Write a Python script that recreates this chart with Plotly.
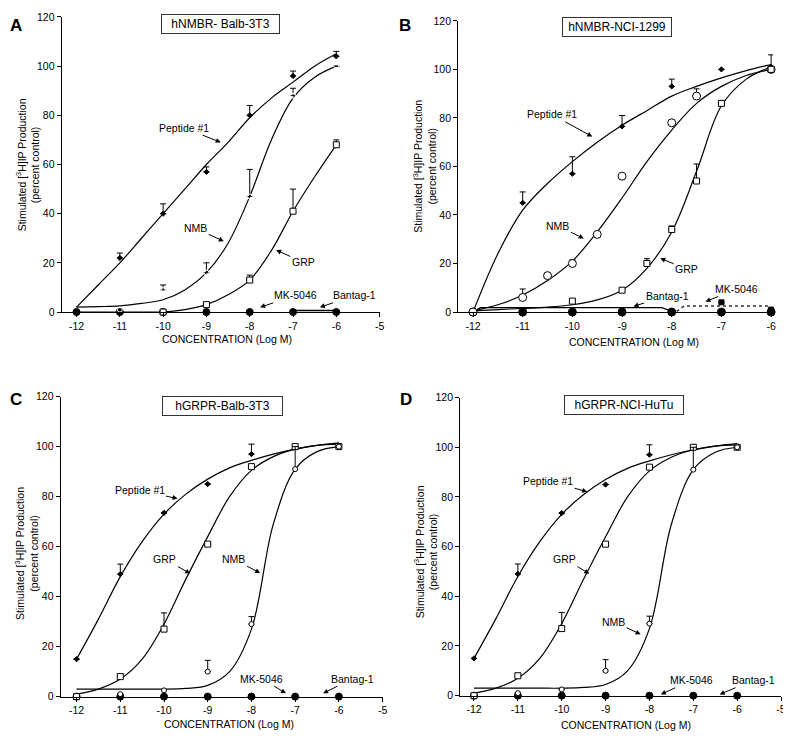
'''
    Dose-response curves of stimulated [3H]IP production in four cell lines.
'''
import plotly.graph_objects as go
from plotly.subplots import make_subplots

FONT = 'Arial, Liberation Sans, sans-serif'

DOSES = [-12, -11, -10, -9, -8, -7, -6]
CURVE_X = [-12, -11.5, -11, -10.5, -10, -9.5, -9, -8.5, -8, -7.5, -7, -6.5, -6]
ANTAG_Y = [0, 0, 0, 0, 0, 0, 0]

# Panel A: hNMBR- Balb-3T3
A_PEP_Y = [None, 22, 40, 57, 80, 96, 104]
A_PEP_ERR = [0, 2, 4, 2, 4, 2, 2]
A_NMB_Y = [None, 1, 9, 16, 47, 88, 100]
A_NMB_ERR = [0, 0, 2, 4, 11, 3, 0]
A_GRP_Y = [None, None, 0, 3, 13, 41, 68]
A_GRP_ERR = [0, 0, 0, 0, 2, 9, 2]
A_PEP_CURVE = [2, 11, 20, 30, 40, 50, 60, 69, 79, 87, 93.5, 100, 105]
A_NMB_CURVE = [2, 2.2, 2.5, 3.5, 5, 9, 16, 28, 47, 70, 87, 95.5, 100]
A_GRP_CURVE = [0, 0, 0, 0, 0, 1, 3, 7, 13, 25, 41, 55, 68]
A_BANTAG_X = [-7, -6]
A_BANTAG_Y = [0.6, 0.6]

# Panel B: hNMBR-NCI-1299
B_PEP_X = [-11, -10, -9, -8, -7, -6]
B_PEP_Y = [45, 57, 76.5, 93, 100, 101]
B_PEP_ERR = [4.5, 7, 4.5, 3, 0, 5]
B_NMB_X = [-12, -11, -10.5, -10, -9.5, -9, -8, -7.5, -6]
B_NMB_Y = [0, 6, 15, 20, 32, 56, 78, 89, 100]
B_NMB_ERR = [0, 3.5, 0, 1.5, 0, 0, 0, 3, 0]
B_GRP_X = [-10, -9, -8.5, -8, -7.5, -7, -6]
B_GRP_Y = [4.5, 9, 20, 34, 54, 86, 100]
B_GRP_ERR = [0, 0, 2, 1.5, 7, 1, 0]
B_MK_X = [-7, -6]
B_MK_Y = [4, 1]
B_PEP_CURVE = [0, 24, 42, 53, 62, 70, 77, 83, 89, 93, 96.5, 99.5, 102]
B_NMB_CURVE = [0.5, 3, 7, 13, 21, 33, 47, 62, 75, 86, 93, 97.5, 100]
B_GRP_CURVE = [0.5, 1, 1.5, 2, 3, 5, 9, 18, 33, 58, 85, 96, 101]
B_BANTAG_X = [-12, -11.85, -8.2, -8.0]
B_BANTAG_Y = [0, 1.8, 1.8, 0.3]
B_MK_LINE_X = [-7.9, -7.75, -6]
B_MK_LINE_Y = [0.3, 2.5, 2.5]

# Panels C and D: hGRPR-Balb-3T3 / hGRPR-NCI-HuTu
C_PEP_Y = [15, 49, 73.5, 85, 97, None, None]
C_PEP_ERR = [0, 4, 0, 0, 4, 0, 0]
C_GRP_Y = [0, 8, 27, 61, 92, 100, 100]
C_GRP_ERR = [0, 1, 6.5, 0, 0, 0, 0]
C_NMB_Y = [None, 1, 2.5, 10, 29, 91, 100]
C_NMB_ERR = [0, 0, 0, 4.5, 3, 9, 0]
C_PEP_CURVE = [15, 31, 48, 62, 73, 81, 87, 91.5, 94.5, 97, 99, 100.5, 101.5]
C_GRP_CURVE = [1, 3, 7, 15, 29, 47, 64, 80, 90.5, 96, 99, 100.5, 101]
C_NMB_CURVE = [3, 3, 3, 3, 3, 3.3, 4.5, 10, 27, 69, 91, 98, 100]

D_PEP_Y, D_PEP_ERR = C_PEP_Y, C_PEP_ERR
D_GRP_Y, D_GRP_ERR = C_GRP_Y, C_GRP_ERR
D_NMB_Y, D_NMB_ERR = C_NMB_Y, C_NMB_ERR
D_PEP_CURVE, D_GRP_CURVE, D_NMB_CURVE = C_PEP_CURVE, C_GRP_CURVE, C_NMB_CURVE

PANEL_TITLES = ['hNMBR- Balb-3T3', 'hNMBR-NCI-1299', 'hGRPR-Balb-3T3', 'hGRPR-NCI-HuTu']

# label, text x, text y, arrow tip x, arrow tip y
LABELS = {
    (1, 1): [('Peptide #1', -9.52, 75, -8.67, 69), ('NMB', -9.25, 34, -8.6, 28.8),
             ('GRP', -6.76, 20.2, -7.39, 25.2), ('MK-5046', -6.95, 6.8, -7.76, 1.9),
             ('Bantag-1', -5.58, 6.8, -6.38, 1.9)],
    (1, 2): [('Peptide #1', -10.42, 81.5, -9.6, 72.3), ('NMB', -10.29, 35.5, -9.77, 30.3),
             ('GRP', -7.7, 17.6, -8.23, 22.2), ('Bantag-1', -8.09, 6.8, -8.77, 2.3),
             ('MK-5046', -6.69, 9.5, -7.32, 4.3)],
    (2, 1): [('Peptide #1', -10.56, 82.5, -9.69, 79.2), ('GRP', -9.98, 55, -9.4, 49.2),
             ('NMB', -8.4, 55, -7.8, 49.4), ('MK-5046', -7.76, 7.2, -7.21, 1.3),
             ('Bantag-1', -5.69, 7.2, -6.36, 1.3)],
    (2, 2): [('Peptide #1', -10.31, 86.5, -9.42, 82.1), ('GRP', -9.93, 55, -9.37, 49.1),
             ('NMB', -8.82, 29.8, -8.2, 24.7), ('MK-5046', -7.04, 6.2, -7.74, 0.5),
             ('Bantag-1', -5.63, 6.2, -6.4, 0.5)],
}

# the page body has an 8px margin, so the figure is drawn 8px in from the top-left
PAGE_W, PAGE_H, OFF = 791, 740, 8
W, H = PAGE_W - OFF, PAGE_H - OFF


def px(x, y):
    return (x - OFF) / W, 1 - (y - OFF) / H


def points(fig, x, y, err, symbol, size, row, col, fill='white'):
    fig.add_trace(go.Scatter(
        x=x, y=y, mode='markers', cliponaxis=False,
        marker=dict(symbol=symbol, size=size, color=fill, line=dict(color='black', width=1)),
        error_y=dict(type='data', array=err, arrayminus=[0] * len(err), symmetric=False,
                     width=3, thickness=1, color='black'),
    ), row=row, col=col)


def curve(fig, x, y, row, col, color='black', dash='solid', shape='spline', width=1.2):
    fig.add_trace(go.Scatter(
        x=x, y=y, mode='lines', line=dict(color=color, width=width, shape=shape, dash=dash),
        cliponaxis=False,
    ), row=row, col=col)


fig = make_subplots(rows=2, cols=2)

# A
curve(fig, CURVE_X, A_PEP_CURVE, 1, 1)
curve(fig, CURVE_X, A_NMB_CURVE, 1, 1)
curve(fig, CURVE_X, A_GRP_CURVE, 1, 1)
curve(fig, A_BANTAG_X, A_BANTAG_Y, 1, 1, shape='linear', width=1.5)
points(fig, DOSES, ANTAG_Y, [0] * 7, 'circle', 7, 1, 1, fill='black')
points(fig, DOSES, A_PEP_Y, A_PEP_ERR, 'diamond', 4, 1, 1, fill='black')
points(fig, DOSES, A_NMB_Y, A_NMB_ERR, 'circle-open', 5, 1, 1)
points(fig, DOSES, A_GRP_Y, A_GRP_ERR, 'square', 6, 1, 1)

# B
curve(fig, CURVE_X, B_PEP_CURVE, 1, 2)
curve(fig, CURVE_X, B_NMB_CURVE, 1, 2)
curve(fig, CURVE_X, B_GRP_CURVE, 1, 2)
curve(fig, B_BANTAG_X, B_BANTAG_Y, 1, 2, shape='linear')
curve(fig, B_MK_LINE_X, B_MK_LINE_Y, 1, 2, color='#333333', dash='dot', shape='linear', width=1.6)
points(fig, DOSES, ANTAG_Y, [0] * 7, 'circle', 8, 1, 2, fill='black')
points(fig, B_MK_X, B_MK_Y, [0, 0], 'square', 5, 1, 2, fill='black')
points(fig, B_PEP_X, B_PEP_Y, B_PEP_ERR, 'diamond', 4, 1, 2, fill='black')
points(fig, B_NMB_X, B_NMB_Y, B_NMB_ERR, 'circle', 8, 1, 2)
points(fig, B_GRP_X, B_GRP_Y, B_GRP_ERR, 'square', 6, 1, 2)

# C and D
for (r, c), (pep, pe, grp, ge, nmb, ne, pc, gc, nc) in {
    (2, 1): (C_PEP_Y, C_PEP_ERR, C_GRP_Y, C_GRP_ERR, C_NMB_Y, C_NMB_ERR,
             C_PEP_CURVE, C_GRP_CURVE, C_NMB_CURVE),
    (2, 2): (D_PEP_Y, D_PEP_ERR, D_GRP_Y, D_GRP_ERR, D_NMB_Y, D_NMB_ERR,
             D_PEP_CURVE, D_GRP_CURVE, D_NMB_CURVE),
}.items():
    curve(fig, CURVE_X, pc, r, c)
    curve(fig, CURVE_X, gc, r, c)
    curve(fig, CURVE_X, nc, r, c)
    points(fig, DOSES, ANTAG_Y, [0] * 7, 'circle', 7, r, c, fill='black')
    points(fig, DOSES, pep, pe, 'diamond', 4, r, c, fill='black')
    points(fig, DOSES, grp, ge, 'square', 6, r, c)
    points(fig, DOSES, nmb, ne, 'circle', 5, r, c)

# axes placement, measured in pixels of the 791x740 page
domains = {
    (1, 1): ((62, 382), (11, 311), [-12.344, -5], [-12, -11, -10, -9, -8, -7, -6, -5]),
    (1, 2): ((461, 778), (15, 311), [-12.3, -5.96], [-12, -11, -10, -9, -8, -7, -6]),
    (2, 1): ((61, 385), (397, 702), [-12.364, -5], [-12, -11, -10, -9, -8, -7, -6, -5]),
    (2, 2): ((463, 786), (398, 701), [-12.317, -5], [-12, -11, -10, -9, -8, -7, -6, -5]),
}
axis_style = dict(showline=True, linecolor='black', linewidth=1, ticks='outside', ticklen=4,
                  tickcolor='black', showgrid=False, zeroline=False,
                  tickfont=dict(family=FONT, size=10.5, color='black'))
for (r, c), ((x0, x1), (y0, y1), xr, xt) in domains.items():
    dx0, _ = px(x0, 0)
    dx1, _ = px(x1, 0)
    _, dy0 = px(0, y1)
    _, dy1 = px(0, y0)
    fig.update_xaxes(domain=[dx0, dx1], range=xr, tickvals=xt, ticktext=[str(v) for v in xt],
                     row=r, col=c, **axis_style)
    fig.update_yaxes(domain=[dy0, dy1], range=[0, 120], tickvals=list(range(0, 121, 20)),
                     row=r, col=c, **axis_style)

annotations = []
axis_ids = {(1, 1): '', (1, 2): '2', (2, 1): '3', (2, 2): '4'}
for key, items in LABELS.items():
    n = axis_ids[key]
    for text, tx, ty, hx, hy in items:
        annotations.append(dict(
            text=text, x=hx, y=hy, ax=tx, ay=ty, xref='x' + n, yref='y' + n,
            axref='x' + n, ayref='y' + n, showarrow=True, arrowhead=2, arrowsize=1,
            arrowwidth=1, arrowcolor='black', standoff=0,
            font=dict(family=FONT, size=10.5, color='black'),
        ))

# panel title boxes: centre x, centre y, width
boxes = [(222, 18, 113), (621, 21.5, 104), (223.5, 406.5, 115), (628, 406, 114)]
for title, (cx, cy, bw) in zip(PANEL_TITLES, boxes):
    x, y = px(cx, cy)
    annotations.append(dict(
        text=title, x=x, y=y, xref='paper', yref='paper', showarrow=False, width=bw,
        xanchor='center', yanchor='middle', bordercolor='#333333', borderwidth=1, borderpad=2,
        bgcolor='white', font=dict(family=FONT, size=12, color='black'),
    ))

# panel letters (kept just inside the figure, which cannot draw into the page margin)
for letter, (lx, ly) in zip('ABCD', [(8, 8), (400, 8), (8, 388), (401, 388)]):
    x, y = px(lx, ly)
    annotations.append(dict(
        text='<b>%s</b>' % letter, x=x, y=y, xref='paper', yref='paper', showarrow=False,
        xanchor='left', yanchor='top', font=dict(family=FONT, size=17, color='black'),
    ))

# axis titles
for cx, cy in [(28, 161), (427, 163), (26, 556), (428, 555)]:
    x, y = px(cx, cy)
    annotations.append(dict(
        text='Stimulated [<sup>3</sup>H]IP Production<br>(percent control)', x=x, y=y,
        xref='paper', yref='paper', showarrow=False, textangle=-90,
        xanchor='center', yanchor='middle', font=dict(family=FONT, size=10.5, color='black'),
    ))
for cx, cy in [(228, 338), (638, 341), (230, 730), (630, 731)]:
    x, y = px(cx, cy)
    annotations.append(dict(
        text='CONCENTRATION (Log M)', x=x, y=y, xref='paper', yref='paper', showarrow=False,
        xanchor='center', yanchor='middle', font=dict(family=FONT, size=10.5, color='black'),
    ))

fig.update_layout(
    width=W, height=H, margin=dict(l=0, r=0, t=0, b=0),
    paper_bgcolor='white', plot_bgcolor='white', showlegend=False,
    annotations=annotations,
)

fig.write_html("out.html")
